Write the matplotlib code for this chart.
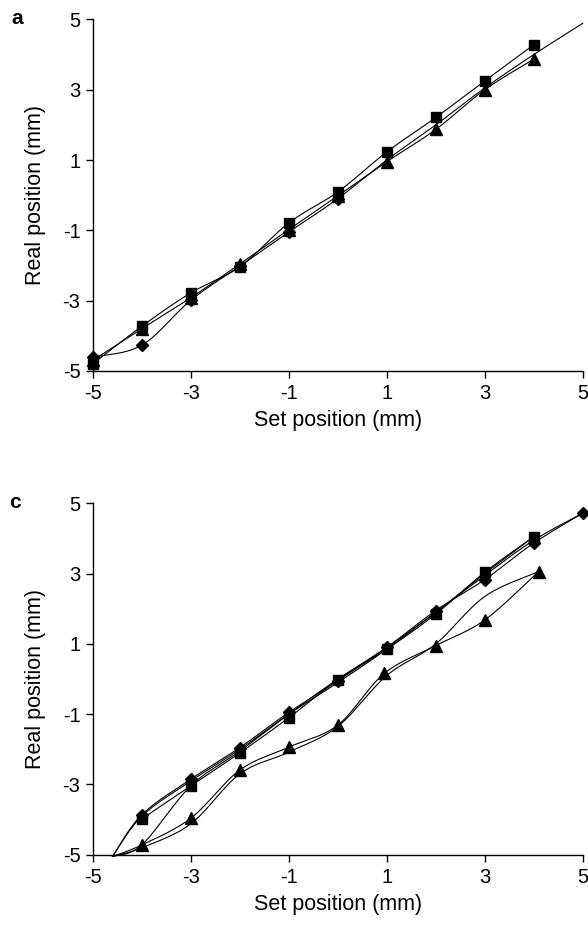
import matplotlib
matplotlib.use('Agg')
import matplotlib.pyplot as plt
import numpy as np

plt.rcParams['font.family'] = ['Liberation Sans', 'DejaVu Sans']
plt.rcParams['axes.unicode_minus'] = False

# panel a
set_a = [-5, -4, -3, -2, -1, 0, 1, 2, 3, 4]
squares_a = [-4.8, -3.73, -2.78, -2.04, -0.79, 0.09, 1.23, 2.21, 3.25, 4.28]
triangles_a = [-4.7, -3.8, -2.92, -1.96, -0.98, -0.02, 0.95, 1.87, 3.0, 3.87]
set_a_diam = [-5, -4, -3, -2, -1, 0, 1, 2, 3, 4, 5]
diamonds_a = [-4.61, -4.27, -2.99, -2.02, -1.05, -0.1, 1.0, 2.0, 3.05, 4.0, 4.89]
diam_a_marked = 6

# panel c, forward passes (markers) and return passes (plain lines)
set_c_diam = [-4.6, -4, -3, -2, -1, 0, 1, 2, 3, 4, 5]
diamonds_c = [-5.05, -3.86, -2.85, -1.95, -0.95, -0.05, 0.9, 1.95, 2.83, 3.87, 4.72]
set_c_diam_back = [5, 4, 3, 2, 1, 0, -1, -2, -3, -4, -4.6]
diamonds_c_back = [4.72, 3.95, 2.95, 1.9, 0.85, -0.1, -1.0, -2.0, -2.9, -3.9, -5.05]

set_c_sq = [-4, -3, -2, -1, 0, 1, 2, 3, 4]
squares_c = [-3.98, -3.04, -2.1, -1.1, -0.03, 0.85, 1.85, 3.04, 4.05]
set_c_sq_back = [4, 3, 2, 1, 0, -1, -2, -3, -4, -4.6]
squares_c_back = [4.05, 3.0, 1.9, 0.9, 0.0, -1.0, -2.05, -3.04, -4.72, -5.05]

set_c_tri = [-4.6, -4, -3, -2, -1, 0, 0.95, 2, 3, 4.1]
triangles_c = [-5.05, -4.72, -3.96, -2.59, -1.94, -1.31, 0.16, 0.95, 1.68, 3.06]
set_c_tri_back = [4.1, 3, 2, 1, 0, -1, -2, -3, -4, -4.6]
triangles_c_back = [3.06, 2.35, 1.0, 0.1, -1.35, -2.08, -2.7, -4.12, -4.8, -5.05]

ticks = [-5, -3, -1, 1, 3, 5]


def smooth(x, y, n=16):
    # bezier smoothing like a spreadsheet "smoothed line"
    p = np.column_stack([x, y]).astype(float)
    if len(p) < 3:
        return p[:, 0], p[:, 1]
    ext = np.vstack([p[0], p, p[-1]])
    t = np.linspace(0, 1, n)[:, None]
    out = [p[:1]]
    for i in range(1, len(ext) - 2):
        p0, p1, p2, p3 = ext[i - 1], ext[i], ext[i + 1], ext[i + 2]
        c1 = p1 + (p2 - p0) / 6
        c2 = p2 - (p3 - p1) / 6
        seg = ((1 - t) ** 3 * p1 + 3 * (1 - t) ** 2 * t * c1
               + 3 * (1 - t) * t ** 2 * c2 + t ** 3 * p2)
        out.append(seg[1:])
    out = np.vstack(out)
    return out[:, 0], out[:, 1]


def draw_line(ax, x, y, marker=None, ms=7, start=0, stop=None):
    sx, sy = smooth(x, y)
    ax.plot(sx, sy, color='black', lw=0.8, clip_on=False, zorder=2)
    if marker:
        ax.plot(x[start:stop], y[start:stop], ls='none', marker=marker,
                ms=ms, color='black', clip_on=False, zorder=3)


def style(ax):
    ax.set_xlim(-5, 5)
    ax.set_ylim(-5, 5)
    ax.set_xticks(ticks)
    ax.set_yticks(ticks)
    for s in ['top', 'right']:
        ax.spines[s].set_visible(False)
    for s in ['left', 'bottom']:
        ax.spines[s].set_linewidth(1.0)
    ax.tick_params(direction='out', length=5, width=1.0, labelsize=14.5)
    ax.tick_params(axis='x', pad=4.5)
    ax.tick_params(axis='y', pad=4)
    ax.set_xlabel('Set position (mm)', fontsize=15.5, labelpad=5)
    ax.set_ylabel('Real position (mm)', fontsize=15.5, labelpad=12)


fig = plt.figure(figsize=(5.88, 9.27), dpi=100)
ax_a = fig.add_axes([0.158, 0.600, 0.833, 0.379])
ax_c = fig.add_axes([0.158, 0.078, 0.833, 0.379])

draw_line(ax_a, set_a, squares_a, 's', 7)
draw_line(ax_a, set_a, triangles_a, '^', 8)
draw_line(ax_a, set_a_diam, diamonds_a, 'D', 6.5, 0, diam_a_marked)
style(ax_a)

draw_line(ax_c, set_c_diam_back, diamonds_c_back)
draw_line(ax_c, set_c_sq_back, squares_c_back)
draw_line(ax_c, set_c_tri_back, triangles_c_back)
draw_line(ax_c, set_c_sq, squares_c, 's', 7)
draw_line(ax_c, set_c_tri, triangles_c, '^', 8, 1)
draw_line(ax_c, set_c_diam, diamonds_c, 'D', 6.5, 1)
style(ax_c)

fig.text(17 / 588, 1 - 18 / 927, 'a', fontsize=15, fontweight='bold',
         ha='center', va='center')
fig.text(15 / 588, 1 - 503 / 927, 'c', fontsize=15, fontweight='bold',
         ha='center', va='center')

fig.savefig('out.png', dpi=100)
